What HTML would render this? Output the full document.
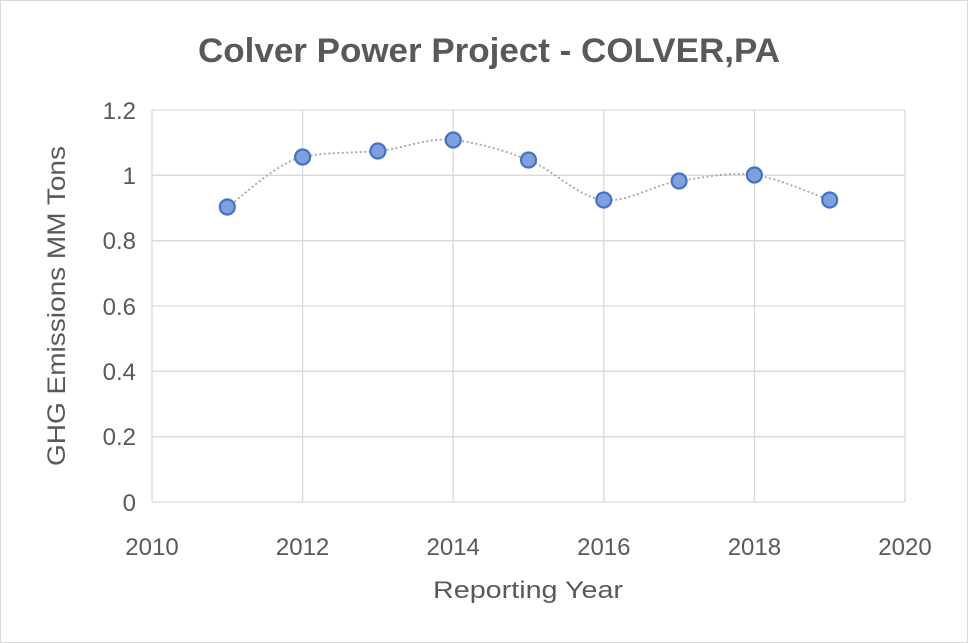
<!DOCTYPE html>
<html><head><meta charset="utf-8"><style>
body{margin:0;background:#fff;}
svg{display:block;font-family:"Liberation Sans",sans-serif;}
</style></head><body>
<svg width="968" height="643" viewBox="0 0 968 643">
<rect x="0.5" y="0.5" width="967" height="642" fill="#fff" stroke="#d9d9d9"/>
<text x="489" y="62" text-anchor="middle" font-size="34" font-weight="bold" fill="#595959" textLength="582" lengthAdjust="spacingAndGlyphs">Colver Power Project - COLVER,PA</text>
<g stroke="#d9d9d9" stroke-width="1.3" fill="none">
<line x1="152" y1="110" x2="905" y2="110"/>
<line x1="152" y1="175.3" x2="905" y2="175.3"/>
<line x1="152" y1="240.7" x2="905" y2="240.7"/>
<line x1="152" y1="306" x2="905" y2="306"/>
<line x1="152" y1="371.3" x2="905" y2="371.3"/>
<line x1="152" y1="436.7" x2="905" y2="436.7"/>
<line x1="152" y1="502" x2="905" y2="502"/>
<line x1="152" y1="110" x2="152" y2="502"/>
<line x1="302.6" y1="110" x2="302.6" y2="502"/>
<line x1="453.2" y1="110" x2="453.2" y2="502"/>
<line x1="603.8" y1="110" x2="603.8" y2="502"/>
<line x1="754.4" y1="110" x2="754.4" y2="502"/>
<line x1="905" y1="110" x2="905" y2="502"/>
</g>
<g font-size="24" fill="#595959" text-anchor="end">
<text x="136" y="119">1.2</text>
<text x="136" y="184">1</text>
<text x="136" y="249">0.8</text>
<text x="136" y="315">0.6</text>
<text x="136" y="380">0.4</text>
<text x="136" y="445">0.2</text>
<text x="136" y="511">0</text>
</g>
<g font-size="24" fill="#595959" text-anchor="middle">
<text x="152" y="555">2010</text>
<text x="302.6" y="555">2012</text>
<text x="453.2" y="555">2014</text>
<text x="603.8" y="555">2016</text>
<text x="754.4" y="555">2018</text>
<text x="905" y="555">2020</text>
<text x="528" y="598" textLength="190" lengthAdjust="spacingAndGlyphs">Reporting Year</text>
</g>
<text transform="translate(65,306) rotate(-90)" font-size="25" fill="#595959" text-anchor="middle" textLength="320" lengthAdjust="spacingAndGlyphs">GHG Emissions MM Tons</text>
<path fill="none" stroke="#a6a6a6" stroke-width="1.8" stroke-dasharray="2,2.5"
d="M227.3,207 C240,198.7 277,162.2 302.6,157 C327.7,151.8 352,153.2 377.9,151 C403,148.8 428,137.2 453.2,140 C478.3,142.8 503.4,150 528.5,160 C553.6,170 578.7,197.5 603.8,200 C628.9,202.5 654,184.5 679.1,181 C704.2,177.5 729.3,171.5 754.4,175 C779.5,178.5 817.2,195.8 829.7,200"/>
<g fill="#7ea0dc" stroke="#4472c4" stroke-width="2.2">
<circle cx="227.3" cy="207" r="7.5"/>
<circle cx="302.6" cy="157" r="7.5"/>
<circle cx="377.9" cy="151" r="7.5"/>
<circle cx="453.2" cy="140" r="7.5"/>
<circle cx="528.5" cy="160" r="7.5"/>
<circle cx="603.8" cy="200" r="7.5"/>
<circle cx="679.1" cy="181" r="7.5"/>
<circle cx="754.4" cy="175" r="7.5"/>
<circle cx="829.7" cy="200" r="7.5"/>
</g>
</svg>
</body></html>
